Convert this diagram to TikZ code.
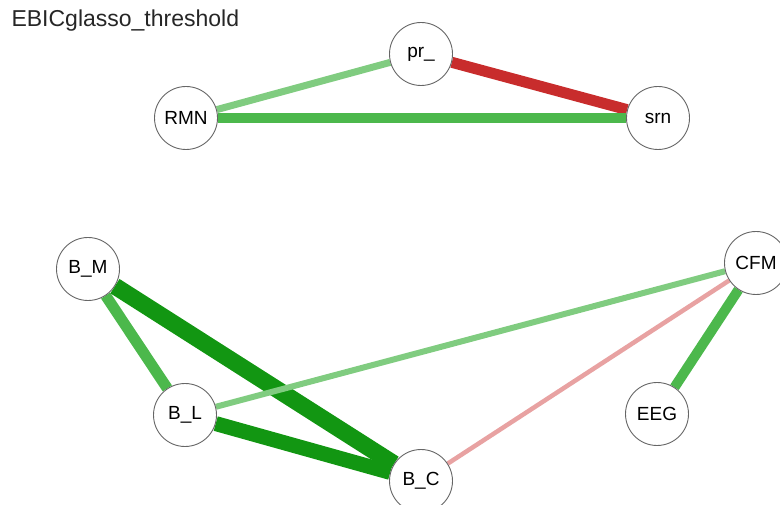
\documentclass[tikz,border=0pt]{standalone}
\usepackage{fontspec}
\setmainfont{Liberation Sans}
\usetikzlibrary{backgrounds}
% edge colours: positive weights fade from #009900, negative from #BF0000
\definecolor{posdark}{RGB}{18,150,18}
\definecolor{posmid}{RGB}{76,184,76}
\definecolor{poslight}{RGB}{128,204,128}
\definecolor{negstrong}{RGB}{200,44,44}
\definecolor{negweak}{RGB}{232,162,162}
\begin{document}
\begin{tikzpicture}[x=1pt,y=-1pt,
  vertex/.style={circle,draw=black!60,line width=0.9pt,fill=white,
    minimum size=63pt,inner sep=0pt,font=\fontsize{19}{19}\selectfont},
  edge/.style={line cap=butt}]
\useasboundingbox (0,0) rectangle (780,505);

\node[anchor=base west,font=\fontsize{23}{23}\selectfont,text=black!85] (title) at (8,27) {EBICglasso\_threshold};

% variables
\node[vertex] (pr)  at (421,54)  {pr\_};
\node[vertex] (RMN) at (186,118) {RMN};
\node[vertex] (srn) at (658,118) {srn};
\node[vertex] (BM)  at (88,269)  {B\_M};
\node[vertex] (CFM) at (756,263) {CFM};
\node[vertex] (BL)  at (185,415) {B\_L};
\node[vertex] (EEG) at (657,414) {EEG};
\node[vertex] (BC)  at (421,481) {B\_C};

% partial correlations
\begin{pgfonlayer}{background}
\draw[edge,poslight,line width=7pt]   (RMN) -- (pr);
\draw[edge,negstrong,line width=11pt] (pr) -- (srn);
\draw[edge,posmid,line width=10pt]    (RMN) -- (srn);
\draw[edge,posmid,line width=11pt]    (BM) -- (BL);
\draw[edge,posdark,line width=17pt]   (BM) -- (BC);
\draw[edge,posdark,line width=15pt]   (BL) -- (BC);
\draw[edge,poslight,line width=6pt]   (BL) -- (CFM);
\draw[edge,negweak,line width=4.5pt]  (BC) -- (CFM);
\draw[edge,posmid,line width=10pt]    (CFM) -- (EEG);
\end{pgfonlayer}
\end{tikzpicture}
\end{document}
